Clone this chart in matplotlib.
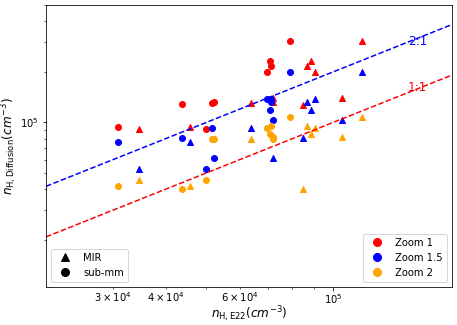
import matplotlib
matplotlib.use("Agg")
import matplotlib.pyplot as plt
from matplotlib.lines import Line2D
import numpy as np

# data ------------------------------------------------------------------
# Zoom 1 (red)
z1_sub_x = [3.09e4, 4.37e4, 4.98e4, 5.15e4, 5.20e4, 6.95e4, 7.06e4, 7.12e4, 7.89e4]
z1_sub_y = [9.41e4, 1.28e5, 9.12e4, 1.31e5, 1.33e5, 1.99e5, 2.32e5, 2.17e5, 3.05e5]
z1_mir_x = [3.46e4, 4.57e4, 6.39e4, 7.19e4, 7.19e4, 8.47e4, 8.67e4, 8.85e4, 9.05e4, 1.05e5, 1.17e5]
z1_mir_y = [9.12e4, 9.37e4, 1.31e5, 1.39e5, 1.315e5, 1.27e5, 2.17e5, 2.32e5, 1.99e5, 1.39e5, 3.05e5]

# Zoom 1.5 (blue)
z15_sub_x = [3.09e4, 4.37e4, 4.98e4, 5.15e4, 5.20e4, 6.95e4, 7.12e4, 7.12e4, 7.06e4, 7.19e4, 7.89e4]
z15_sub_y = [7.67e4, 8.03e4, 5.31e4, 9.29e4, 6.10e4, 1.38e5, 1.38e5, 1.315e5, 1.18e5, 1.036e5, 2.0e5]
z15_mir_x = [3.46e4, 4.57e4, 6.39e4, 7.19e4, 8.47e4, 8.67e4, 8.85e4, 9.05e4, 1.05e5, 1.17e5]
z15_mir_y = [5.27e4, 7.67e4, 9.29e4, 6.10e4, 8.03e4, 1.315e5, 1.18e5, 1.38e5, 1.036e5, 2.0e5]

# Zoom 2 (orange)
z2_sub_x = [3.09e4, 4.37e4, 4.98e4, 5.15e4, 5.20e4, 6.95e4, 7.06e4, 7.12e4, 7.19e4, 7.19e4, 7.89e4]
z2_sub_y = [4.18e4, 4.01e4, 4.53e4, 7.92e4, 7.92e4, 9.21e4, 8.52e4, 9.50e4, 8.14e4, 7.92e4, 1.075e5]
z2_mir_x = [3.46e4, 4.57e4, 6.39e4, 8.47e4, 8.67e4, 8.85e4, 9.05e4, 1.05e5, 1.17e5]
z2_mir_y = [4.53e4, 4.18e4, 7.92e4, 4.01e4, 9.50e4, 8.52e4, 9.21e4, 8.14e4, 1.075e5]

xlim = (2.08e4, 1.91e5)
ylim = (1.05e4, 5.0e5)

# plotting ---------------------------------------------------------------
fig = plt.figure(figsize=(457/72., 325/72.), dpi=72)
ax = fig.add_axes([0.1007, 0.1178, 0.8877, 0.8668])

series = [
    (z1_sub_x, z1_sub_y, z1_mir_x, z1_mir_y, 'red'),
    (z15_sub_x, z15_sub_y, z15_mir_x, z15_mir_y, 'blue'),
    (z2_sub_x, z2_sub_y, z2_mir_x, z2_mir_y, 'orange'),
]
for sx, sy, mx, my, c in series:
    ax.scatter(sx, sy, c=c, marker='o', s=36)
    ax.scatter(mx, my, c=c, marker='^', s=36)

# reference lines
xx = np.array(xlim)
ax.plot(xx, xx, c='r', ls='--')
ax.plot(xx, 2*xx, c='b', ls='--')
ax.text(1.585e5, 3.05e5, "2:1", color='b', ha='center', va='center', fontsize=12)
ax.text(1.585e5, 1.62e5, "1:1", color='r', ha='center', va='center', fontsize=12)

ax.set_xscale('log')
ax.set_yscale('log')
ax.set_xlim(*xlim)
ax.set_ylim(*ylim)
ax.tick_params(axis='x', which='both', pad=1.5)

ax.set_xlabel(r"$n_{\rm H, E22} (cm^{-3})$", fontsize=12)
ax.set_ylabel(r"$n_{\rm H, Diffusion} (cm^{-3})$", fontsize=12)
ax.xaxis.set_label_coords(0.5, -0.062)
ax.yaxis.set_label_coords(-0.067, 0.5)

# legends
h_shape = [Line2D([], [], ls='', marker='^', color='k', markersize=8),
           Line2D([], [], ls='', marker='o', color='k', markersize=8)]
leg1 = ax.legend(h_shape, ["MIR", "sub-mm"], loc='lower left')
ax.add_artist(leg1)
h_col = [Line2D([], [], ls='', marker='o', color=c, markersize=8) for c in ['red', 'blue', 'orange']]
ax.legend(h_col, ["Zoom 1", "Zoom 1.5", "Zoom 2"], loc='lower right')

fig.savefig("out.png", dpi=72)
